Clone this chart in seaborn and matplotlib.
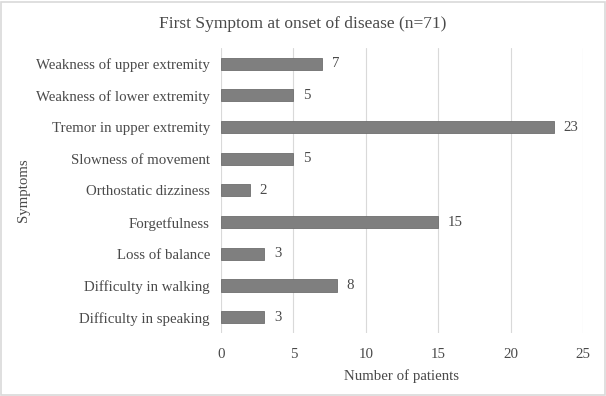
import matplotlib
matplotlib.use("Agg")
import matplotlib.pyplot as plt
import seaborn as sns
import pandas as pd
from matplotlib.patches import Rectangle

symptoms = ["Weakness of upper extremity", "Weakness of lower extremity",
            "Tremor in upper extremity", "Slowness of movement",
            "Orthostatic dizziness", "Forgetfulness", "Loss of balance",
            "Difficulty in walking", "Difficulty in speaking"]
patients = [7, 5, 23, 5, 2, 15, 3, 8, 3]
xticks = [0, 5, 10, 15, 20, 25]

df = pd.DataFrame({"Symptoms": symptoms, "Number of patients": patients})

sns.set_theme(style="white")
plt.rcParams['font.family'] = ['Liberation Serif', 'DejaVu Serif']
txt = "#4a4a4a"
fs = 10.7

fig = plt.figure(figsize=(6.06, 3.96), dpi=100)
ax = fig.add_axes([0.3647, 0.159, 0.5973, 0.720])
sns.barplot(data=df, y="Symptoms", x="Number of patients", ax=ax,
            color="#7f7f7f", width=0.38, edgecolor="#6e6e6e", linewidth=0.6,
            saturation=1, zorder=3)
ax.set_xlim(0, 25)
ax.set_xticks(xticks)
ax.set_xticklabels([str(t) for t in xticks])
ax.grid(axis="x", color="#d9d9d9", linewidth=0.8, zorder=0)
for s in ax.spines.values():
    s.set_visible(False)
ax.tick_params(axis="y", length=0, labelsize=fs, colors=txt, pad=8)
ax.tick_params(axis="x", length=0, labelsize=fs, colors=txt, pad=11)
ax.set_xlabel("Number of patients", fontsize=fs, color=txt, labelpad=6)
ax.set_ylabel("Symptoms", fontsize=fs, color=txt, labelpad=4)
for c in ax.containers:
    ax.bar_label(c, padding=7, fontsize=fs, color=txt)
fig.suptitle("First Symptom at onset of disease (n=71)", y=0.96,
             fontsize=12.5, color=txt)
fig.patches.append(Rectangle((0.002, 0.002), 0.996, 0.994, transform=fig.transFigure,
                             fill=False, edgecolor="#d9d9d9", linewidth=1.2))
fig.savefig("out.png", dpi=100)
